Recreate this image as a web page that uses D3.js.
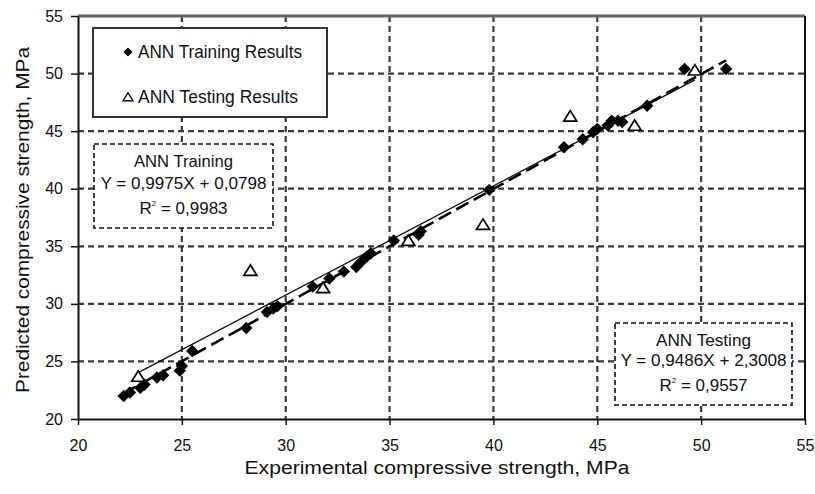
<!DOCTYPE html>
<html><head><meta charset="utf-8">
<script src="https://cdn.jsdelivr.net/npm/d3@7"></script>
<style>
body{margin:0;background:#fff;}
text{font-family:"Liberation Sans",Arial,sans-serif;fill:#111;}
</style></head>
<body><svg id="c" width="815" height="494"></svg>
<script>
// ---- data ----
const trainX = [22.2,22.5,23.0,23.2,23.8,24.1,24.9,25.0,25.5,28.1,29.1,29.4,29.6,31.3,32.1,32.8,33.4,33.6,33.9,34.1,35.2,36.4,36.5,39.8,43.4,44.3,44.8,45.0,45.5,45.7,46.0,46.2,47.4,49.2,51.2];
const trainY = [22.0,22.3,22.7,23.0,23.6,23.8,24.2,24.6,25.9,27.9,29.3,29.6,29.8,31.5,32.2,32.8,33.2,33.6,34.1,34.4,35.5,36.0,36.3,39.9,43.6,44.3,44.9,45.2,45.5,45.9,45.9,45.8,47.2,50.4,50.4];
const testX = [22.9,28.3,31.8,35.9,39.5,43.7,46.8,49.7];
const testY = [23.7,32.9,31.4,35.5,36.9,46.3,45.5,50.3];
const trainFit = {a:0.9975, b:0.0798};
const testFit = {a:0.9486, b:2.3008};
const xTicks = [20,25,30,35,40,45,50,55];
const yTicks = [20,25,30,35,40,45,50,55];
const legendLabels = ["ANN Training Results","ANN Testing Results"];
const trainBox = ["ANN Training","Y = 0,9975X + 0,0798","0,9983"];
const testBox = ["ANN Testing","Y = 0,9486X + 2,3008","0,9557"];
const xTitle = "Experimental compressive strength, MPa";
const yTitle = "Predicted compressive strength, MPa";

const svg = d3.select("#c");
const x = d3.scaleLinear().domain([20,55]).range([78,805]);
const y = d3.scaleLinear().domain([20,55]).range([419,16]);

// grid
const grid = svg.append("g");
grid.selectAll(".v").data(xTicks.slice(1,-1)).enter().append("line")
  .attr("x1",d=>x(d)).attr("x2",d=>x(d)).attr("y1",y(55)).attr("y2",y(20))
  .attr("stroke","#3a3a3a").attr("stroke-width",2.2).attr("stroke-dasharray","6,4");
grid.selectAll(".h").data(yTicks.slice(1,-1)).enter().append("line")
  .attr("y1",d=>y(d)).attr("y2",d=>y(d)).attr("x1",x(20)).attr("x2",x(55))
  .attr("stroke","#3a3a3a").attr("stroke-width",2.2).attr("stroke-dasharray","6,4");

// frame
svg.append("line").attr("x1",x(20)).attr("x2",x(55)).attr("y1",y(55)).attr("y2",y(55)).attr("stroke","#666").attr("stroke-width",3);
svg.append("line").attr("x1",x(55)).attr("x2",x(55)).attr("y1",y(55)).attr("y2",y(20)).attr("stroke","#111").attr("stroke-width",2);

// axes
const ax = svg.append("g").attr("transform",`translate(0,${y(20)})`)
  .call(d3.axisBottom(x).tickValues(xTicks).tickSize(6).tickPadding(15).tickSizeOuter(0));
const ay = svg.append("g").attr("transform",`translate(${x(20)},0)`)
  .call(d3.axisLeft(y).tickValues(yTicks).tickSize(7).tickPadding(8).tickSizeOuter(0));
[ax,ay].forEach(g=>{
  g.select(".domain").attr("stroke","#111").attr("stroke-width",2);
  g.selectAll(".tick line").attr("stroke","#111").attr("stroke-width",1.5);
  g.selectAll(".tick text").style("font-size","16px").style("font-family","'Liberation Sans',Arial,sans-serif").attr("fill","#111");
});

// trendlines
const line = d3.line().x(d=>x(d[0])).y(d=>y(d[1]));
const te = d3.extent(testX);
svg.append("path").attr("d",line(te.map(v=>[v,testFit.a*v+testFit.b])))
  .attr("stroke","#111").attr("stroke-width",1.3).attr("fill","none");
const tr = d3.extent(trainX);
svg.append("path").attr("d",line(tr.map(v=>[v,trainFit.a*v+trainFit.b])))
  .attr("stroke","#000").attr("stroke-width",2.6).attr("fill","none").attr("stroke-dasharray","14,6");

// points
const diamond = s => `M0,${-s}L${s},0L0,${s}L${-s},0Z`;
const tri = s => `M0,${-s*0.85}L${s},${s*0.75}L${-s},${s*0.75}Z`;
svg.append("g").selectAll("path").data(trainX.map((v,i)=>[v,trainY[i]])).enter().append("path")
  .attr("d",diamond(6.2)).attr("transform",d=>`translate(${x(d[0])},${y(d[1])})`).attr("fill","#000");
svg.append("g").selectAll("path").data(testX.map((v,i)=>[v,testY[i]])).enter().append("path")
  .attr("d",tri(6.5)).attr("transform",d=>`translate(${x(d[0])},${y(d[1])})`)
  .attr("fill","#fff").attr("stroke","#000").attr("stroke-width",1.7);

// legend
const lg = svg.append("g");
lg.append("rect").attr("x",93).attr("y",28).attr("width",234).attr("height",89)
  .attr("fill","#fff").attr("stroke","#333").attr("stroke-width",2);
lg.append("path").attr("d",diamond(4.5)).attr("transform","translate(128,52)").attr("fill","#000");
lg.append("path").attr("d",tri(5)).attr("transform","translate(128,97)").attr("fill","#fff").attr("stroke","#000").attr("stroke-width",1.4);
lg.append("text").attr("x",138).attr("y",58).style("font-size","19px").attr("textLength",164).attr("lengthAdjust","spacingAndGlyphs").text(legendLabels[0]);
lg.append("text").attr("x",138).attr("y",103).style("font-size","19px").attr("textLength",160).attr("lengthAdjust","spacingAndGlyphs").text(legendLabels[1]);

// equation boxes
function eqBox(bx,by,bw,bh,lines,base,widths){
  const g = svg.append("g");
  g.append("rect").attr("x",bx).attr("y",by).attr("width",bw).attr("height",bh)
    .attr("fill","#fff").attr("stroke","#111").attr("stroke-width",1.6).attr("stroke-dasharray","5,3");
  const cx = bx+bw/2;
  g.append("text").attr("x",cx).attr("y",base[0]).attr("text-anchor","middle").style("font-size","17px")
    .attr("textLength",widths[0]).attr("lengthAdjust","spacingAndGlyphs").text(lines[0]);
  g.append("text").attr("x",cx).attr("y",base[1]).attr("text-anchor","middle").style("font-size","17px")
    .attr("textLength",widths[1]).attr("lengthAdjust","spacingAndGlyphs").text(lines[1]);
  const t = g.append("text").attr("x",cx).attr("y",base[2]).attr("text-anchor","middle").style("font-size","17px");
  t.append("tspan").text("R");
  t.append("tspan").attr("dy",-8).style("font-size","8px").text("2");
  t.append("tspan").attr("dy",8).text(" = "+lines[2]);
}
eqBox(94,144,179,84,trainBox,[167,189,214],[99,166]);
eqBox(615,323,177,82,testBox,[346,366,391],[95,166]);

// titles
svg.append("text").attr("x",437).attr("y",474).attr("text-anchor","middle").style("font-size","18px")
  .attr("textLength",385).attr("lengthAdjust","spacingAndGlyphs").text(xTitle);
svg.append("text").attr("transform","translate(29,220) rotate(-90)").attr("text-anchor","middle").style("font-size","18px")
  .attr("textLength",346).attr("lengthAdjust","spacingAndGlyphs").text(yTitle);
</script></body></html>
